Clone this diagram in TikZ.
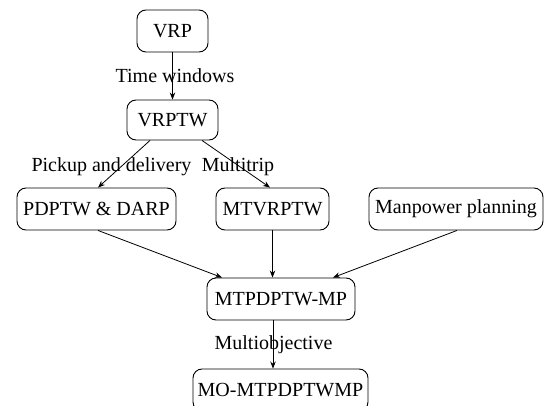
\documentclass[tikz,border=0pt]{standalone}
\usepackage{fontspec}
\setmainfont{Liberation Serif}
\usetikzlibrary{calc,arrows.meta}
\begin{document}
\begin{tikzpicture}[x=1pt,y=-1pt,
  box/.style={draw, rounded corners=9pt, line width=0.9pt, inner sep=0pt, minimum height=42pt, font=\fontsize{20}{22}\selectfont},
  conn/.style={line width=0.8pt, -{Stealth[length=7pt,width=5.5pt]}},
  lbl/.style={font=\fontsize{20}{22}\selectfont, inner sep=0pt}]
\useasboundingbox (0,0) rectangle (544,406);
\node[box, minimum width=71pt] (vrp) at (172.5,31) {VRP};
\node[box, minimum width=91pt, minimum height=40pt] (vrptw) at (172.5,120) {VRPTW};
\node[box, minimum width=159pt] (pd) at (96.5,209) {PDPTW \& DARP};
\node[box, minimum width=113pt] (mt) at (272.5,209) {MTVRPTW};
\node[box, minimum width=174pt] (mp) at (456,209) {Manpower planning};
\node[box, minimum width=148pt] (mtp) at (281,299) {MTPDPTW-MP};
\node[box, minimum width=175pt] (mo) at (280.5,390) {MO-MTPDPTWMP};

\draw[conn] (vrp.south) -- (vrptw.north);
\node[lbl] (lt) at (175,76) {Time windows};
\draw[conn] ($(vrptw.south)+(-22.5,0)$) -- ($(pd.north)+(1.5,0)$);
\draw[conn] ($(vrptw.south)+(29.5,0)$) -- ($(mt.north)+(-2.5,0)$);
\node[lbl] (lp) at (111.5,167) {Pickup and delivery};
\node[lbl] (lm) at (238,167) {Multitrip};
\draw[conn] ($(pd.south)+(1.5,0)$) -- ($(mtp.north)+(-59,0)$);
\draw[conn] (mt.south) -- ($(mtp.north)+(-8.5,0)$);
\draw[conn] ($(mp.south)+(1,0)$) -- ($(mtp.north)+(52,0)$);
\draw[conn] ($(mtp.south)+(-8,0)$) -- ($(mo.north)+(-7.5,0)$);
\node[lbl] (lo) at (273.5,345) {Multiobjective};
\end{tikzpicture}
\end{document}
